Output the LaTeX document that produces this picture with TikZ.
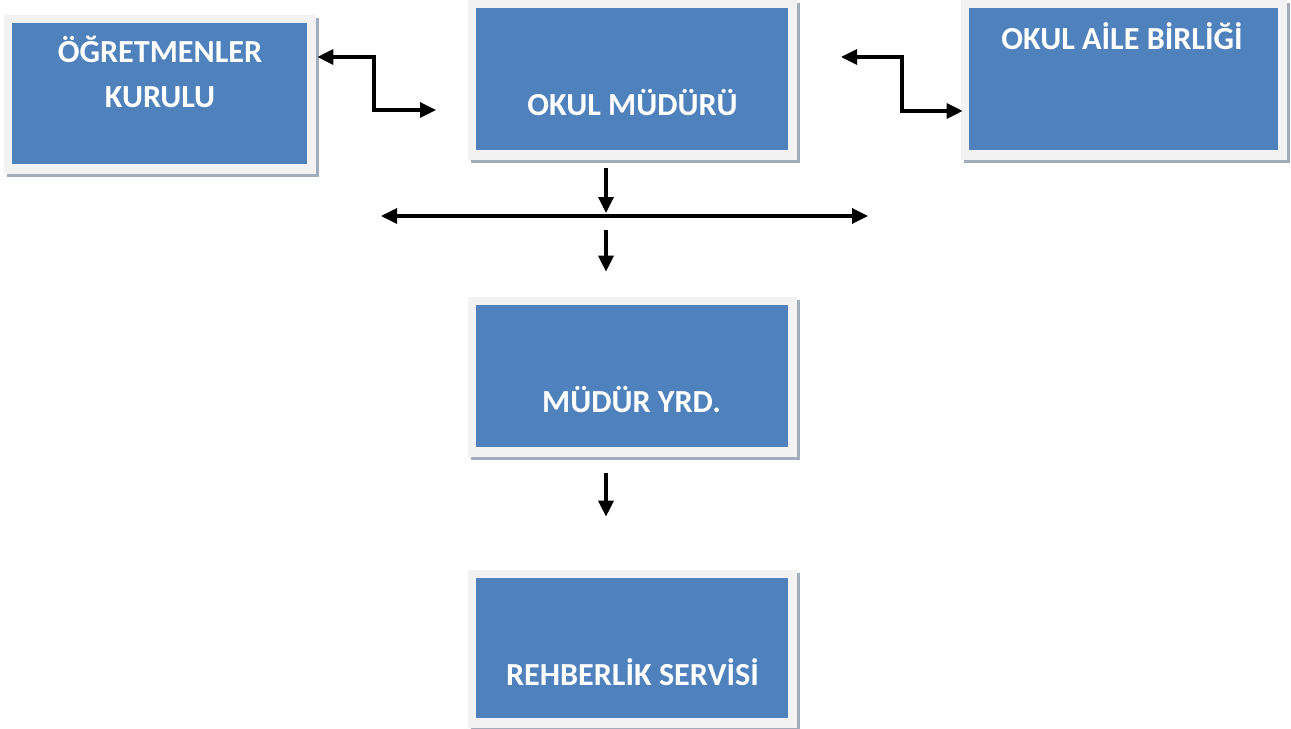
\documentclass[tikz,border=0pt]{standalone}
\usepackage{fontspec}
\setmainfont{Carlito}
\usepackage{tikz}
\usetikzlibrary{arrows.meta,shadows,calc}

\definecolor{boxblue}{HTML}{4F81BD}
\definecolor{framegray}{HTML}{F2F2F2}
\definecolor{shadowgray}{HTML}{A3ACBB}

\begin{document}
\begin{tikzpicture}[x=0.02cm, y=-0.02cm,
		unitbox/.style={fill=framegray, draw=none, inner sep=0pt,
			minimum width=6.58cm, minimum height=3.2cm,
			drop shadow={shadow xshift=0.06cm, shadow yshift=-0.06cm, fill=shadowgray, opacity=1},
			path picture={\fill[boxblue] ([xshift=0.16cm,yshift=-0.16cm]path picture bounding box.north west)
				rectangle ([xshift=-0.17cm,yshift=0.19cm]path picture bounding box.south east);}},
		lbl/.style={text=white, font=\fontsize{18.3}{25.5}\selectfont\bfseries, align=center, inner sep=0pt},
		arr/.style={line width=1.9pt, {Triangle[length=0.32cm,width=0.3cm]}-{Triangle[length=0.32cm,width=0.3cm]}},
		darr/.style={line width=1.9pt, -{Triangle[length=0.32cm,width=0.3cm]}}]
			\useasboundingbox (0, 0) rectangle (1291, 729);
			\coordinate (lstart) at (0, 57);
			\coordinate (lend) at (436, 110);
			\coordinate (rend) at (841, 57);
			\coordinate (rstart) at (0, 111);
			\coordinate (hub) at (606, 216);
			\coordinate (hubl) at (381, 216);
			\coordinate (hubr) at (868, 216);
			% boxes
			\node[unitbox, minimum width=6.24cm, minimum height=3.18cm] (ogretmen) at (160, 94.5) {};
			\node[unitbox] (mudur) at (632.5, 80) {};
			\node[unitbox, minimum width=6.52cm] (aile) at (1124, 80) {};
			\node[unitbox] (yrd) at (632.5, 377) {};
			\node[unitbox, minimum height=3.16cm] (rehber) at (632.5, 649) {};
			% labels
			\node[lbl, anchor=base] (ogretmentxt) at ($(ogretmen.north)+(0, 93)$) {ÖĞRETMENLER\\KURULU};
			\node[lbl, anchor=base] (mudurtxt) at ($(mudur.north)+(0, 116)$) {OKUL MÜDÜRÜ};
			\node[lbl, anchor=base] (ailetxt) at ($(aile.north)+(-2, 50)$) {OKUL AİLE BİRLİĞİ};
			\node[lbl, anchor=base] (yrdtxt) at ($(yrd.north)+(-1, 116)$) {MÜDÜR YRD.};
			\node[lbl, anchor=base] (rehbertxt) at ($(rehber.north)+(0, 116)$) {REHBERLİK SERVİSİ};
			% connectors
			\draw[arr] ($(ogretmen.east |- lstart)+(1, 0)$) -| (374, 110) -- (lend);
			\draw[arr] (rend) -| (902, 111) -- ($(aile.west |- rstart)+(2, 0)$);
			\draw[darr] ($(mudur.south -| hub)+(0, 8)$) -- ($(hub)+(0, -3)$);
			\draw[arr] (hubl) -- (hubr);
			\draw[darr] ($(hub)+(0, 14)$) -- ($(yrd.north -| hub)+(0, -25)$);
			\draw[darr] ($(yrd.south -| hub)+(0, 16)$) -- ($(rehber.north -| hub)+(0, -53)$);
		\end{tikzpicture}
\end{document}
